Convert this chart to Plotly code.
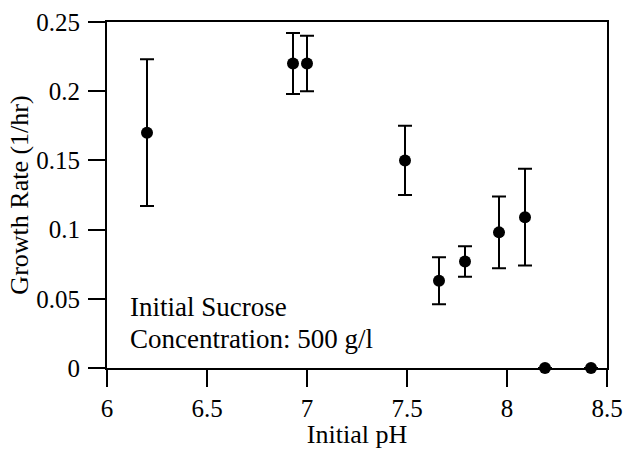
import plotly.graph_objects as go

ph = [6.2, 6.93, 7.0, 7.49, 7.66, 7.79, 7.96, 8.09, 8.19, 8.42]
growth = [0.170, 0.220, 0.220, 0.150, 0.063, 0.077, 0.098, 0.109, 0.0, 0.0]
err_plus = [0.053, 0.022, 0.020, 0.025, 0.017, 0.011, 0.026, 0.035, 0.0, 0.0]
err_minus = [0.053, 0.022, 0.020, 0.025, 0.017, 0.011, 0.026, 0.035, 0.0, 0.0]

x_ticks = [6, 6.5, 7, 7.5, 8, 8.5]
x_tick_text = ["6", "6.5", "7", "7.5", "8", "8.5"]
y_ticks = [0, 0.05, 0.1, 0.15, 0.2, 0.25]
y_tick_text = ["0", "0.05", "0.1", "0.15", "0.2", "0.25"]

note_lines = ["Initial Sucrose", "Concentration: 500 g/l"]

font_family = "Liberation Serif, Times New Roman, serif"

fig = go.Figure()
fig.add_trace(go.Scatter(
    x=ph, y=growth, mode="markers",
    marker=dict(color="black", size=12),
    error_y=dict(type="data", symmetric=False, array=err_plus, arrayminus=err_minus,
                 color="black", thickness=2, width=7),
    cliponaxis=False, showlegend=False,
))

for line, ypos in zip(note_lines, [0.176, 0.083]):
    fig.add_annotation(
        x=0.041, y=ypos, xref="paper", yref="paper", xanchor="left", yanchor="middle",
        text=line, align="left", showarrow=False,
        font=dict(family=font_family, size=27, color="black"),
    )

axis_common = dict(
    showgrid=False, zeroline=False, showline=True, linecolor="black", linewidth=2,
    mirror=True, ticks="outside", ticklen=17, tickwidth=2, tickcolor="black",
    tickfont=dict(family=font_family, size=25, color="black"), automargin=False,
)

fig.update_layout(
    width=629, height=449,
    margin=dict(l=107, r=22, t=22, b=81),
    paper_bgcolor="white", plot_bgcolor="white",
    xaxis=dict(range=[6, 8.5], tickvals=x_ticks, ticktext=x_tick_text,
               title=dict(text="Initial pH", font=dict(family=font_family, size=26, color="black"), standoff=0),
               **axis_common),
    yaxis=dict(range=[0, 0.25], tickvals=y_ticks, ticktext=y_tick_text, ticklabelstandoff=3,
               title=dict(text="Growth Rate (1/hr)", font=dict(family=font_family, size=26, color="black"), standoff=0),
               **axis_common),
)

fig.write_html("out.html", config={"displayModeBar": False},
               post_script="document.body.style.margin='0';document.body.style.padding='0';")
